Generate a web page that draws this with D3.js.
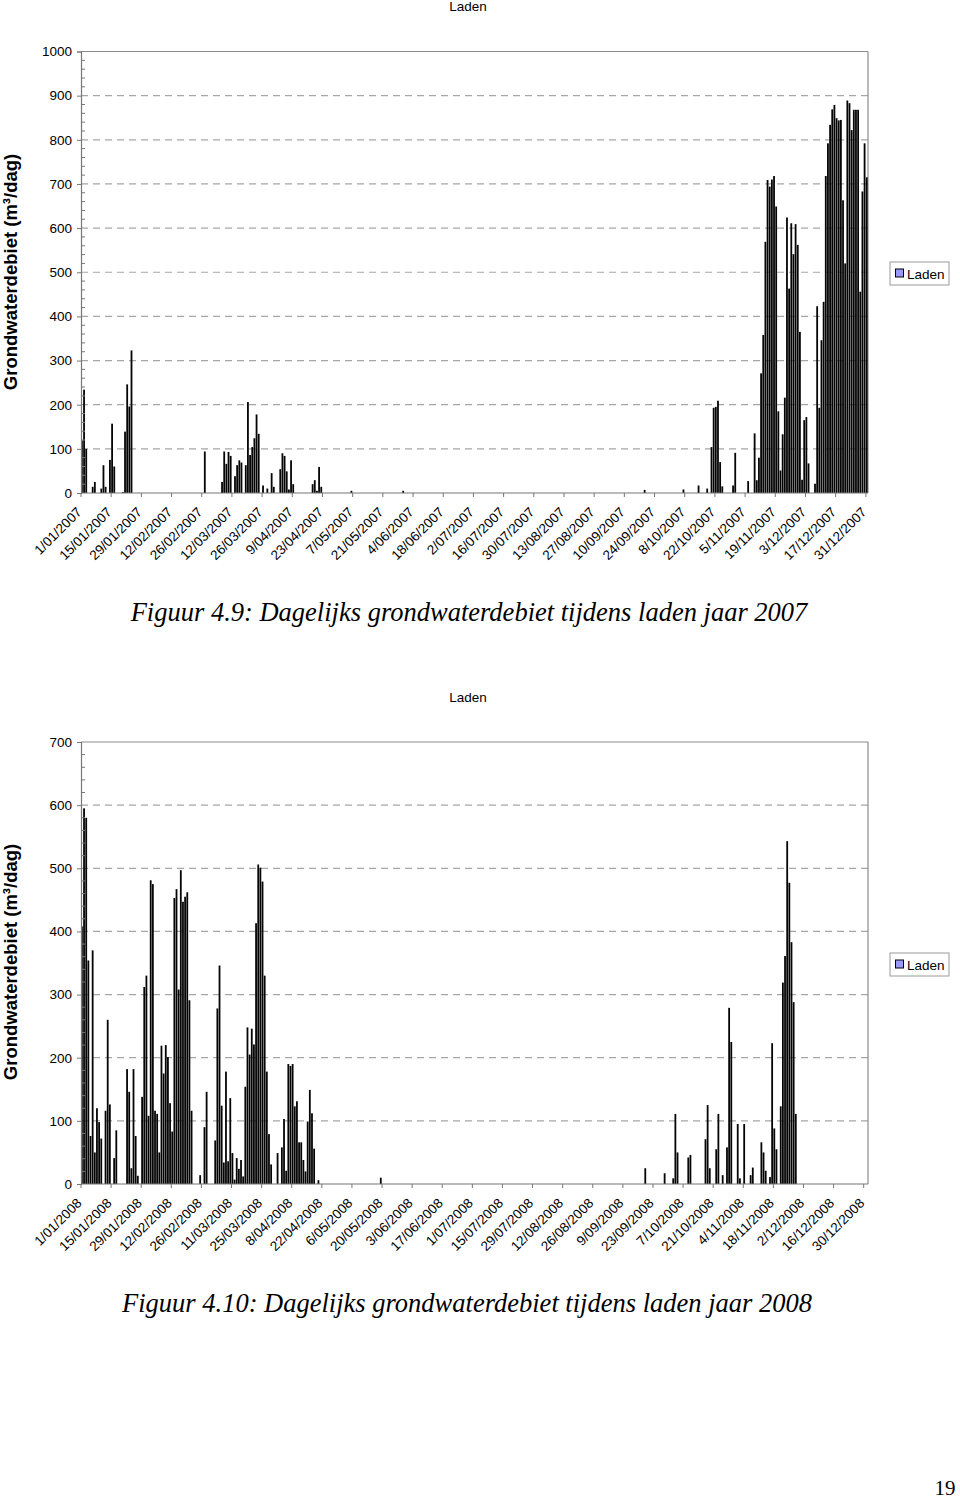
<!DOCTYPE html>
<html>
<head>
<meta charset="utf-8">
<script src="https://cdn.jsdelivr.net/npm/d3@7"></script>
<style>
  html, body { margin: 0; padding: 0; background: #fff; }
  svg { display: block; }
</style>
</head>
<body>
<svg id="chart" width="960" height="1501"></svg>
<script>
// ---------- DATA ----------
const seriesName = "Laden";
const yLabel = "Grondwaterdebiet (m³/dag)";

// 2007: day-of-year index (0 = 1/01/2007) of non-zero days, and their values (m³/dag)
const days2007 = [0,1,2,5,6,9,10,11,13,14,15,19,20,21,22,23,
  57,65,66,67,68,69,71,72,73,74,76,77,78,79,80,81,82,84,86,88,89,
  92,93,94,95,96,97,98,107,108,109,110,111,125,149,261,279,286,290,
  292,293,294,295,296,297,302,303,309,
  312,313,314,315,316,317,318,319,320,321,322,323,324,325,326,327,328,329,330,331,332,333,334,335,336,337,
  340,341,342,343,344,345,346,347,348,349,350,351,352,353,354,355,356,357,358,359,360,361,362,363,364];
const values2007 = [119,234,100,14,25,10,63,14,75,157,60,2,139,246,196,323,
  94,25,94,66,93,84,38,63,74,69,63,206,86,104,124,178,134,17,10,45,14,
  54,90,84,49,8,74,20,20,29,5,59,14,5,5,7,8,17,10,
  104,193,195,209,70,15,17,91,27,
  135,29,80,271,358,569,709,694,710,718,649,185,51,133,216,624,463,611,541,609,562,365,30,165,172,67,
  21,423,193,346,433,718,792,834,869,879,849,844,845,663,520,889,883,822,868,868,868,456,683,792,715];

// 2008: day-of-year index (0 = 1/01/2008) of non-zero days, and their values
const days2008 = [0,1,2,3,4,5,6,7,8,9,11,12,13,15,16,21,22,23,24,25,26,28,29,30,31,32,33,34,35,36,
  37,38,39,40,41,42,43,44,45,46,47,48,49,50,51,55,57,58,62,63,64,65,66,67,68,69,70,71,72,73,74,75,
  76,77,78,79,80,81,82,83,84,85,86,87,88,91,93,94,95,96,97,98,99,100,101,102,103,104,105,106,107,108,110,
  139,262,271,275,276,277,282,283,290,291,292,295,296,298,300,301,302,305,306,308,311,312,
  316,317,318,320,321,322,323,325,326,327,328,329,330,331,332];
const values2008 = [408,595,580,354,76,370,50,120,98,72,116,260,126,41,85,182,146,25,182,76,13,138,312,330,108,481,475,116,111,50,
  219,175,220,201,128,83,453,467,308,497,447,455,462,291,116,14,90,146,69,278,346,124,34,178,36,136,49,7,41,24,38,12,
  154,248,205,246,221,413,506,501,479,330,178,79,31,49,58,103,21,190,187,190,123,131,66,66,38,20,99,149,112,56,6,
  10,25,17,9,111,50,42,46,71,125,25,55,111,14,58,279,225,95,9,95,14,26,
  66,50,21,11,223,88,55,123,319,361,543,477,383,288,111];

// x-axis tick labels (every 14 days)
const tickLabels2007 = ["1/01/2007","15/01/2007","29/01/2007","12/02/2007","26/02/2007","12/03/2007","26/03/2007",
  "9/04/2007","23/04/2007","7/05/2007","21/05/2007","4/06/2007","18/06/2007","2/07/2007","16/07/2007","30/07/2007",
  "13/08/2007","27/08/2007","10/09/2007","24/09/2007","8/10/2007","22/10/2007","5/11/2007","19/11/2007","3/12/2007",
  "17/12/2007","31/12/2007"];
const tickLabels2008 = ["1/01/2008","15/01/2008","29/01/2008","12/02/2008","26/02/2008","11/03/2008","25/03/2008",
  "8/04/2008","22/04/2008","6/05/2008","20/05/2008","3/06/2008","17/06/2008","1/07/2008","15/07/2008","29/07/2008",
  "12/08/2008","26/08/2008","9/09/2008","23/09/2008","7/10/2008","21/10/2008","4/11/2008","18/11/2008","2/12/2008",
  "16/12/2008","30/12/2008"];

const yTicks2007 = [0,100,200,300,400,500,600,700,800,900,1000];
const yTicks2008 = [0,100,200,300,400,500,600,700];

const caption2007 = "Figuur 4.9: Dagelijks grondwaterdebiet tijdens laden jaar 2007";
const caption2008 = "Figuur 4.10: Dagelijks grondwaterdebiet tijdens laden jaar 2008";
const pageNumber = "19";

// ---------- DRAW ----------
const svg = d3.select("#chart");
const sans = "'Liberation Sans', Arial, sans-serif";
const serif = "'Liberation Serif', 'Times New Roman', serif";

function drawChart(o) {
  const g = svg.append("g");
  const nDays = o.nDays;
  const x = d3.scaleBand().domain(d3.range(nDays)).range([o.left, o.right]).padding(0);
  const y = d3.scaleLinear().domain([0, o.yMax]).range([o.bottom, o.top]);
  const bw = x.bandwidth();

  // title
  g.append("text").attr("x", 468).attr("y", o.titleY)
    .attr("text-anchor", "middle").attr("font-family", sans).attr("font-size", 13.5)
    .text(seriesName);

  // gridlines
  g.selectAll(".grid").data(o.yTicks.filter(v => v > 0 && v < o.yMax)).enter().append("line")
    .attr("x1", o.left).attr("x2", o.right)
    .attr("y1", d => y(d)).attr("y2", d => y(d))
    .attr("stroke", "#a6a6a6").attr("stroke-width", 1.2).attr("stroke-dasharray", "7,5");

  // plot border (top + right)
  g.append("line").attr("x1", o.left).attr("x2", o.right).attr("y1", y(o.yMax)).attr("y2", y(o.yMax))
    .attr("stroke", "#8c8c8c").attr("stroke-width", 1.2);
  g.append("line").attr("x1", o.right).attr("x2", o.right).attr("y1", y(o.yMax)).attr("y2", y(0))
    .attr("stroke", "#8c8c8c").attr("stroke-width", 1.2);

  // bars
  const data = o.days.map((d, i) => ({ d, v: o.values[i] }));
  g.selectAll(".bar").data(data).enter().append("rect")
    .attr("x", d => x(d.d)).attr("width", Math.max(0.5, bw - 0.35))
    .attr("y", d => y(d.v)).attr("height", d => y(0) - y(d.v))
    .attr("fill", "#050505");

  // y axis
  const yAxis = d3.axisLeft(y).tickValues(o.yTicks).tickSize(4).tickFormat(d3.format("d"));
  const ya = g.append("g").attr("transform", `translate(${o.left},0)`).call(yAxis);
  ya.select(".domain").attr("stroke", "#777").attr("stroke-width", 1.2);
  ya.selectAll(".tick line").attr("stroke", "#777");
  ya.selectAll(".tick text").attr("font-family", sans).attr("font-size", 13.5).attr("fill", "#000").attr("x", -9);
  // minor ticks (inside)
  const minor = d3.range(0, o.yMax + 1, 20).filter(v => v % 100 !== 0);
  g.selectAll(".minor").data(minor).enter().append("line")
    .attr("x1", o.left).attr("x2", o.left + 4)
    .attr("y1", d => y(d)).attr("y2", d => y(d))
    .attr("stroke", "#777").attr("stroke-width", 1);

  // x axis
  const tickDays = o.tickLabels.map((_, i) => i * 14);
  g.append("line").attr("x1", o.left).attr("x2", o.right).attr("y1", y(0)).attr("y2", y(0))
    .attr("stroke", "#777").attr("stroke-width", 1.2);
  g.selectAll(".xt").data(tickDays).enter().append("line")
    .attr("x1", d => x(d)).attr("x2", d => x(d))
    .attr("y1", y(0)).attr("y2", y(0) + 4)
    .attr("stroke", "#777");
  g.selectAll(".xl").data(o.tickLabels).enter().append("text")
    .attr("transform", (d, i) => `translate(${x(tickDays[i]) + 1.5},${y(0) + 20}) rotate(-45)`)
    .attr("text-anchor", "end").attr("font-family", sans).attr("font-size", 13.5)
    .text(d => d);

  // y label
  g.append("text")
    .attr("transform", `translate(17,${o.yLabelY}) rotate(-90)`)
    .attr("text-anchor", "middle").attr("font-family", sans).attr("font-size", 18.5).attr("font-weight", "bold")
    .text(yLabel);

  // legend
  const lg = g.append("g").attr("transform", `translate(890,${o.legendY})`);
  lg.append("rect").attr("width", 59).attr("height", 23).attr("fill", "#fff").attr("stroke", "#9a9a9a");
  lg.append("rect").attr("x", 5.5).attr("y", 7).attr("width", 8).attr("height", 8)
    .attr("fill", "#9999ff").attr("stroke", "#000").attr("stroke-width", 1);
  lg.append("text").attr("x", 17).attr("y", 16.5).attr("font-family", sans).attr("font-size", 13.5).text(seriesName);

  // caption
  svg.append("text").attr("x", o.captionX).attr("y", o.captionY)
    .attr("text-anchor", "middle").attr("font-family", serif).attr("font-style", "italic").attr("font-size", 26.5)
    .text(o.caption);
}

drawChart({
  nDays: 365, left: 81, right: 868, top: 51.5, bottom: 493, yMax: 1000,
  yTicks: yTicks2007, days: days2007, values: values2007, tickLabels: tickLabels2007,
  titleY: 11, yLabelY: 272, legendY: 262, caption: caption2007, captionX: 469, captionY: 621
});

drawChart({
  nDays: 366, left: 81, right: 868, top: 742, bottom: 1184, yMax: 700,
  yTicks: yTicks2008, days: days2008, values: values2008, tickLabels: tickLabels2008,
  titleY: 702, yLabelY: 962, legendY: 953, caption: caption2008, captionX: 467, captionY: 1312
});

svg.append("text").attr("x", 945).attr("y", 1495).attr("text-anchor", "middle")
  .attr("font-family", serif).attr("font-size", 21).text(pageNumber);
</script>
</body>
</html>
